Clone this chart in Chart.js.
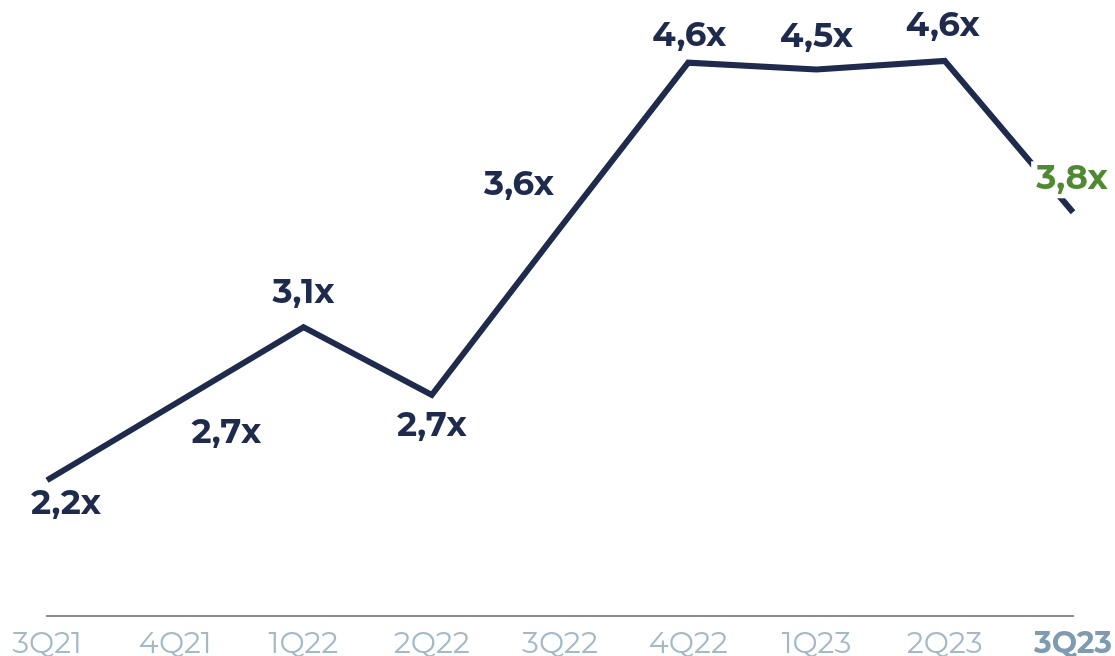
<!DOCTYPE html>
<html lang="en">

<head>
    <meta charset="UTF-8">
    <meta name="viewport" content="width=device-width, initial-scale=1.0">
    <title>Leverage ratio</title>
    <script src="https://cdn.jsdelivr.net/npm/chart.js"></script>
    <style>
        html, body { margin: 0; padding: 0; background: #ffffff; }
        .chart-box { position: relative; width: 1115px; height: 656px; }
    </style>
</head>

<body>
    <div class="chart-box">
        <canvas id="ratio-chart"></canvas>
    </div>
    <script>
        // quarters on the x axis
        const quarters = ['3Q21', '4Q21', '1Q22', '2Q22', '3Q22', '4Q22', '1Q23', '2Q23', '3Q23'];
        // values
        const ratioValues = [2.2, 2.64, 3.08, 2.69, 3.65, 4.6, 4.56, 4.61, 3.74];
        // labels as printed next to each point
        const ratioLabels = ['2,2x', '2,7x', '3,1x', '2,7x', '3,6x', '4,6x', '4,5x', '4,6x', '3,8x'];

        const navy = '#1f2b4d';
        const green = '#4f8a32';
        const fontFamily = "Montserrat, 'Open Sans', sans-serif";

        // where each value label sits relative to its point
        const labelShift = [[19, 24], [51, 29], [0, -34], [0, 31], [-41, -43], [1, -27], [0, -33], [-2, -35], [-1, -33]];

        const valueLabels = {
            id: 'valueLabels',
            afterDatasetsDraw(chart) {
                const ctx = chart.ctx;
                const points = chart.getDatasetMeta(0).data;
                const last = points.length - 1;
                ctx.save();
                ctx.font = 'bold 34px ' + fontFamily;
                ctx.textAlign = 'center';
                ctx.textBaseline = 'middle';
                points.forEach((pt, i) => {
                    const x = pt.x + labelShift[i][0];
                    const y = pt.y + labelShift[i][1];
                    if (i === last) {
                        // the last label covers the line end
                        const w = ctx.measureText(ratioLabels[i]).width + 10;
                        ctx.fillStyle = '#ffffff';
                        ctx.fillRect(x - w / 2, y - 18, w, 37);
                        ctx.fillStyle = green;
                    } else {
                        ctx.fillStyle = navy;
                    }
                    ctx.fillText(ratioLabels[i], x, y);
                });
                ctx.restore();
            }
        };

        const ctx = document.getElementById('ratio-chart').getContext('2d');
        new Chart(ctx, {
            type: 'line',
            data: {
                labels: quarters,
                datasets: [{
                    data: ratioValues,
                    borderColor: navy,
                    borderWidth: 6,
                    pointRadius: 0,
                    tension: 0,
                    fill: false
                }]
            },
            options: {
                responsive: true,
                maintainAspectRatio: false,
                animation: false,
                layout: {
                    padding: { left: 47, right: 42, top: 0, bottom: 0 }
                },
                plugins: {
                    legend: { display: false },
                    tooltip: { enabled: false }
                },
                scales: {
                    x: {
                        offset: false,
                        afterFit(scale) {
                            // fixed axis height, no extra room for the edge labels
                            scale.height = 40;
                            scale.paddingLeft = 0;
                            scale.paddingRight = 0;
                        },
                        grid: { display: false, drawTicks: false },
                        border: { display: true, color: '#8c8c8c', width: 2 },
                        ticks: {
                            padding: 10,
                            maxRotation: 0,
                            autoSkip: false,
                            color: (c) => c.index === quarters.length - 1 ? '#7f9bb0' : '#a3b9c8',
                            font: (c) => ({
                                family: fontFamily,
                                size: 30,
                                weight: c.index === quarters.length - 1 ? 'bold' : 'normal'
                            })
                        }
                    },
                    y: {
                        display: false,
                        min: 1.42,
                        max: 4.96
                    }
                }
            },
            plugins: [valueLabels]
        });
    </script>
</body>

</html>
